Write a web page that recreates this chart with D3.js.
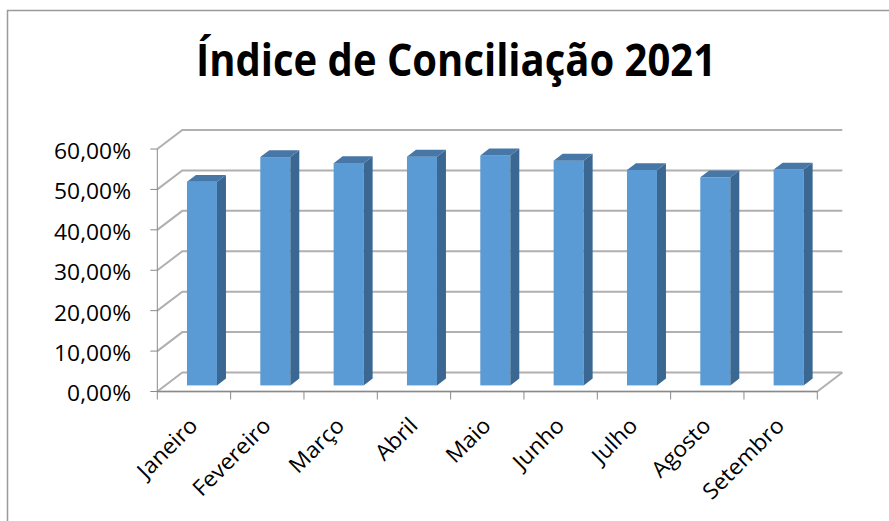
<!DOCTYPE html>
<html>
<head>
<meta charset="utf-8">
<script src="https://cdn.jsdelivr.net/npm/d3@7"></script>
<style>
  body { margin: 0; background: #fff; }
  text { font-family: "Open Sans", "Noto Sans", sans-serif; fill: #000; }
</style>
</head>
<body>
<div id="chart"></div>
<script>
var title   = "Índice de Conciliação 2021";
var months  = ["Janeiro", "Fevereiro", "Março", "Abril", "Maio", "Junho", "Julho", "Agosto", "Setembro"];
var indice  = [0.504, 0.565, 0.550, 0.566, 0.569, 0.556, 0.533, 0.515, 0.534];
var yTicks  = [0, 0.1, 0.2, 0.3, 0.4, 0.5, 0.6];

var W = 889, H = 521;
var plotL = 157.3, plotR = 817.3, plotB = 391.5, plotT = 149;
// depth of the 3d box (full floor depth)
var depthX = 25, depthY = -19;
// bars sit between these fractions of the depth
var t0 = 0.32, t1 = 0.68;
var barW = 30;
var labelSize = 22;

var pt = d3.formatLocale({decimal: ",", thousands: ".", grouping: [3], currency: ["R$", ""]}).format(".2%");

var x = d3.scaleBand().domain(months).range([plotL, plotR]).paddingInner(0).paddingOuter(0);
var y = d3.scaleLinear().domain([0, 0.6]).range([plotB, plotT]);

var svg = d3.select("#chart").append("svg").attr("width", W).attr("height", H);

// chart frame (only top & left edges visible)
svg.append("path").attr("d", "M7.5," + H + "V10.5H" + W)
  .attr("fill", "none").attr("stroke", "#9a9a9a").attr("stroke-width", 1.5);

// title
svg.append("text")
  .attr("x", 456).attr("y", 76)
  .attr("text-anchor", "middle")
  .attr("font-size", 45).attr("font-weight", "bold")
  .attr("textLength", 520).attr("lengthAdjust", "spacingAndGlyphs")
  .text(title);

var grid = svg.append("g").attr("fill", "none").attr("stroke", "#b0b0b0").attr("stroke-width", 2);

// side wall + back wall gridlines
yTicks.forEach(function(v) {
  var yf = y(v), yb = y(v) + depthY;
  grid.append("path")
    .attr("d", "M" + plotL + "," + yf + "L" + (plotL + depthX) + "," + yb + "H" + (plotR + depthX));
});
// floor front and right edges
grid.append("path")
  .attr("d", "M" + plotL + "," + plotB + "H" + plotR + "L" + (plotR + depthX) + "," + (plotB + depthY));

// axes
var ax = svg.append("g").attr("stroke", "#8a8a8a").attr("stroke-width", 1).attr("fill", "none");
ax.append("path").attr("d", "M" + plotL + "," + plotT + "V" + plotB + "H" + plotR);
yTicks.forEach(function(v) {
  ax.append("path").attr("d", "M" + (plotL - 7) + "," + y(v) + "H" + plotL);
});
var bounds = months.map(function(m) { return x(m); }).concat([plotR]);
bounds.forEach(function(b) {
  ax.append("path").attr("d", "M" + b + "," + plotB + "V" + (plotB + 8));
});

// bars
var bars = svg.append("g");
months.forEach(function(m, i) {
  var cx = x(m) + x.bandwidth() / 2;
  var fx0 = cx - barW / 2 + depthX * t0, fx1 = fx0 + barW;
  var fyTop = y(indice[i]) + depthY * t0, fyBot = y(0) + depthY * t0;
  var dx = depthX * (t1 - t0), dy = depthY * (t1 - t0);

  bars.append("rect")
    .attr("x", fx0).attr("y", fyTop).attr("width", barW).attr("height", fyBot - fyTop)
    .attr("fill", "#5b9bd5");
  bars.append("path")
    .attr("d", "M" + fx1 + "," + fyTop + "l" + dx + "," + dy + "V" + (fyBot + dy) + "L" + fx1 + "," + fyBot + "Z")
    .attr("fill", "#3b6892");
  bars.append("path")
    .attr("d", "M" + fx0 + "," + fyTop + "H" + fx1 + "l" + dx + "," + dy + "H" + (fx0 + dx) + "Z")
    .attr("fill", "#4677a6");
});

// labels: measure the font and stretch to match the reference widths
var probe = svg.append("text").attr("font-size", labelSize).text(pt(0.6));
var sx = 77 / probe.node().getComputedTextLength();
probe.remove();

svg.append("g").selectAll("text").data(yTicks).join("text")
  .attr("font-size", labelSize)
  .attr("text-anchor", "end")
  .attr("dominant-baseline", "central")
  .attr("transform", function(d) { return "translate(131," + (y(d) + 1.5) + ") scale(" + sx + ",1)"; })
  .text(function(d) { return pt(d); });

svg.append("g").selectAll("text").data(months).join("text")
  .attr("font-size", labelSize)
  .attr("text-anchor", "end")
  .attr("transform", function(d) {
    var cx = x(d) + x.bandwidth() / 2;
    return "translate(" + (cx + 5) + ",427) rotate(-45) scale(" + sx + ",1)";
  })
  .text(function(d) { return d; });
</script>
</body>
</html>
